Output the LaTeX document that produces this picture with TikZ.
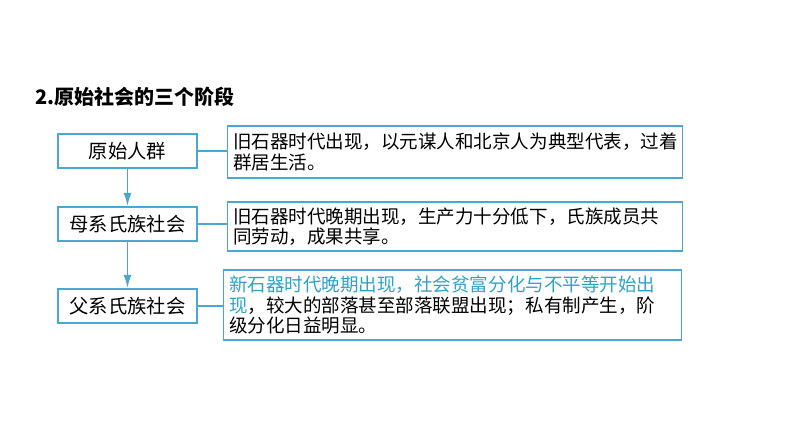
\documentclass[tikz,border=0pt]{standalone}
\usepackage{fontspec}
\setmainfont{Noto Sans CJK SC}
\usetikzlibrary{arrows.meta}
\definecolor{boxblue}{HTML}{4BA7D1}
\definecolor{hiblue}{HTML}{2FA2C9}

\begin{document}
\begin{tikzpicture}[x=0.75pt,y=-0.75pt,
  stage/.style={draw=boxblue,line width=1.3pt,minimum width=139*0.75pt,minimum height=34*0.75pt,inner sep=0pt,font=\fontsize{14.5}{16}\selectfont},
  info/.style={draw=boxblue,line width=1.1pt,text width=444*0.75pt,inner sep=4pt,align=left,font=\fontsize{13.9}{15.4}\selectfont},
  link/.style={boxblue,line width=1.1pt}]
  \useasboundingbox (0,0) rectangle (794,447);
  \node[anchor=west,font=\fontsize{15}{17}\selectfont\bfseries] (title) at (31,97) {2.原始社会的三个阶段};
  % left column
  \node[stage] (s1) at (127.5,151) {原始人群};
  \node[stage] (s2) at (127.5,224) {母系氏族社会};
  \node[stage] (s3) at (127.5,306) {父系氏族社会};
  \draw[link,-{Latex[length=10pt,width=6pt]}] (s1) -- (s2);
  \draw[link,-{Latex[length=10pt,width=6pt]}] (s2) -- (s3);
  % right column
  \node[info,minimum height=52*0.75pt] (d1) at (455,152) {旧石器时代出现，以元谋人和北京人为典型代表，过着\\群居生活。};
  \node[info,minimum height=47*0.75pt] (d2) at (455,226.5) {旧石器时代晚期出现，生产力十分低下，氏族成员共\\同劳动，成果共享。};
  \node[info,minimum height=70*0.75pt,text width=447*0.75pt] (d3) at (452.5,305) {\textcolor{hiblue}{新石器时代晚期出现，社会贫富分化与不平等开始出}\\\textcolor{hiblue}{现}，较大的部落甚至部落联盟出现；私有制产生，阶\\级分化日益明显。};
  \draw[link] (s1) -- (s1 -| d1.west);
  \draw[link] (s2) -- (s2 -| d2.west);
  \draw[link] (s3) -- (s3 -| d3.west);
\end{tikzpicture}
\end{document}
